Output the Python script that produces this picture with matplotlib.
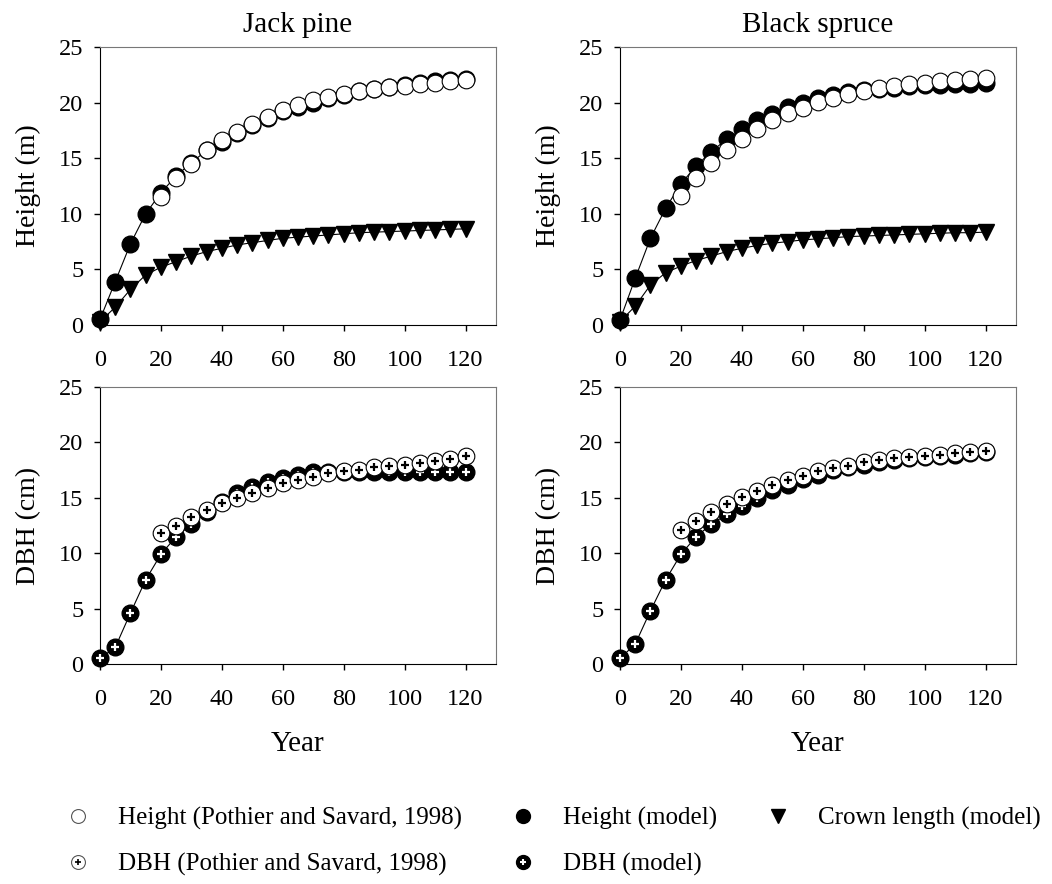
import matplotlib
matplotlib.use("Agg")
import matplotlib.pyplot as plt
from matplotlib.lines import Line2D

plt.rcParams['font.family'] = ['Liberation Serif', 'DejaVu Serif']

years = [0, 5, 10, 15, 20, 25, 30, 35, 40, 45, 50, 55, 60,
         65, 70, 75, 80, 85, 90, 95, 100, 105, 110, 115, 120]
obs_years = years[4:]  # Pothier & Savard data starts at 20 yr

# Jack pine
jp_h_model = [0.5, 3.9, 7.3, 10.0, 11.9, 13.4, 14.6, 15.7, 16.5, 17.3, 18.0, 18.6, 19.2,
              19.6, 20.0, 20.4, 20.7, 21.0, 21.2, 21.4, 21.6, 21.75, 21.9, 22.0, 22.1]
jp_h_obs = [11.5, 13.2, 14.5, 15.7, 16.6, 17.4, 18.1, 18.7, 19.3, 19.8, 20.2,
            20.5, 20.8, 21.0, 21.2, 21.4, 21.5, 21.7, 21.8, 21.9, 22.0]
jp_crown = [0.3, 1.6, 3.2, 4.5, 5.2, 5.7, 6.2, 6.6, 6.9, 7.2, 7.4, 7.6, 7.8,
            7.9, 8.0, 8.1, 8.2, 8.3, 8.35, 8.4, 8.45, 8.5, 8.55, 8.6, 8.65]
jp_dbh_model = [0.5, 1.5, 4.6, 7.6, 9.9, 11.5, 12.6, 13.7, 14.6, 15.4, 16.0, 16.4, 16.8,
                17.1, 17.3, 17.3, 17.3, 17.3, 17.3, 17.3, 17.3, 17.3, 17.3, 17.3, 17.3]
jp_dbh_obs = [11.8, 12.5, 13.3, 13.9, 14.5, 15.0, 15.4, 15.9, 16.3, 16.6, 16.9,
              17.2, 17.4, 17.55, 17.75, 17.85, 18.0, 18.1, 18.3, 18.5, 18.75]

# Black spruce
bs_h_model = [0.45, 4.2, 7.8, 10.5, 12.7, 14.3, 15.6, 16.7, 17.6, 18.4, 19.0, 19.6, 20.0,
              20.4, 20.7, 20.95, 21.1, 21.25, 21.35, 21.45, 21.55, 21.6, 21.65, 21.7, 21.75]
bs_h_obs = [11.6, 13.25, 14.55, 15.75, 16.75, 17.65, 18.4, 19.05, 19.55, 20.05, 20.45,
            20.8, 21.05, 21.3, 21.5, 21.7, 21.8, 21.95, 22.05, 22.15, 22.2]
bs_crown = [0.3, 1.7, 3.6, 4.7, 5.3, 5.8, 6.2, 6.6, 6.9, 7.15, 7.35, 7.5, 7.65,
            7.75, 7.85, 7.95, 8.0, 8.05, 8.1, 8.15, 8.2, 8.25, 8.3, 8.3, 8.35]
bs_dbh_model = [0.5, 1.8, 4.8, 7.6, 9.9, 11.5, 12.6, 13.5, 14.3, 15.0, 15.7, 16.2, 16.7,
                17.1, 17.5, 17.75, 18.0, 18.25, 18.45, 18.6, 18.7, 18.8, 18.9, 19.0, 19.1]
bs_dbh_obs = [12.1, 12.9, 13.7, 14.4, 15.1, 15.6, 16.2, 16.6, 17.0, 17.4, 17.7,
              17.9, 18.2, 18.45, 18.6, 18.7, 18.8, 18.9, 19.0, 19.1, 19.25]

ms = 12
fig = plt.figure(figsize=(10.52, 8.84), dpi=100)

def setup(ax, ylabel):
    ax.set_xlim(0, 130)
    ax.set_ylim(0, 25)
    ax.set_xticks([0, 20, 40, 60, 80, 100, 120])
    ax.set_yticks([0, 5, 10, 15, 20, 25])
    ax.tick_params(direction='out', length=4, width=1, labelsize=17.5)
    ax.tick_params(axis='x', pad=14)
    ax.tick_params(axis='y', pad=8)
    ax.tick_params(top=False, right=False)
    for s in ['top', 'right']:
        ax.spines[s].set_color('#777777')
    ax.set_ylabel(ylabel, fontsize=20, labelpad=13)

def height_panel(ax, crown, model, obs, title):
    ax.plot(years, crown, color='black', lw=0.8, marker='v', ms=ms,
            mfc='black', mec='black', clip_on=False, zorder=3)
    ax.plot(years, model, color='black', lw=0.8, marker='o', ms=ms,
            mfc='black', mec='black', clip_on=False, zorder=4)
    ax.plot(obs_years, obs, ls='none', marker='o', ms=ms, mfc='white',
            mec='black', mew=0.8, clip_on=False, zorder=5)
    ax.set_title(title, fontsize=21, pad=11)
    setup(ax, 'Height (m)')

def dbh_panel(ax, model, obs):
    ax.plot(years, model, color='black', lw=0.8, marker='o', ms=ms,
            mfc='black', mec='black', clip_on=False, zorder=3)
    ax.plot(years, model, ls='none', marker='+', ms=5.5, mew=1.6,
            color='white', clip_on=False, zorder=3.5)
    ax.plot(obs_years, obs, ls='none', marker='o', ms=ms, mfc='white',
            mec='black', mew=0.8, clip_on=False, zorder=5)
    ax.plot(obs_years, obs, ls='none', marker='+', ms=5.5, mew=1.6,
            color='black', clip_on=False, zorder=6)
    setup(ax, 'DBH (cm)')
    ax.set_xlabel('Year', fontsize=21, labelpad=15)

W, H = 1052, 884
ax1 = fig.add_axes([100 / W, 1 - 325 / H, 396 / W, 278 / H])
ax2 = fig.add_axes([620 / W, 1 - 325 / H, 396 / W, 278 / H])
ax3 = fig.add_axes([100 / W, 1 - 664 / H, 396 / W, 277 / H])
ax4 = fig.add_axes([620 / W, 1 - 664 / H, 396 / W, 277 / H])

height_panel(ax1, jp_crown, jp_h_model, jp_h_obs, 'Jack pine')
height_panel(ax2, bs_crown, bs_h_model, bs_h_obs, 'Black spruce')
dbh_panel(ax3, jp_dbh_model, jp_dbh_obs)
dbh_panel(ax4, bs_dbh_model, bs_dbh_obs)

# legend
lms = 10
h_obs = Line2D([], [], ls='none', marker='o', ms=lms, mfc='white', mec='#555555', mew=0.8)
h_mod = Line2D([], [], ls='none', marker='o', ms=lms, mfc='black', mec='black')
cr_mod = Line2D([], [], ls='none', marker='v', ms=lms, mfc='black', mec='black')
d_obs = (Line2D([], [], ls='none', marker='o', ms=lms, mfc='white', mec='#555555', mew=0.8),
         Line2D([], [], ls='none', marker='+', ms=5, mew=1.2, color='black'))
d_mod = (Line2D([], [], ls='none', marker='o', ms=lms, mfc='black', mec='black'),
         Line2D([], [], ls='none', marker='+', ms=5, mew=1.5, color='white'))

handles = [h_obs, d_obs, h_mod, d_mod, cr_mod]
labels = ['Height (Pothier and Savard, 1998)', 'DBH (Pothier and Savard, 1998)',
          'Height (model)', 'DBH (model)', 'Crown length (model)']
fig.legend(handles, labels, ncol=3, loc='upper left',
           bbox_to_anchor=(65.5 / W, 1 - 807 / H), frameon=False, fontsize=18,
           borderpad=0, borderaxespad=0, handlelength=1.0, handletextpad=1.1,
           columnspacing=1.94, labelspacing=0.9)

fig.savefig('out.png', dpi=100)
